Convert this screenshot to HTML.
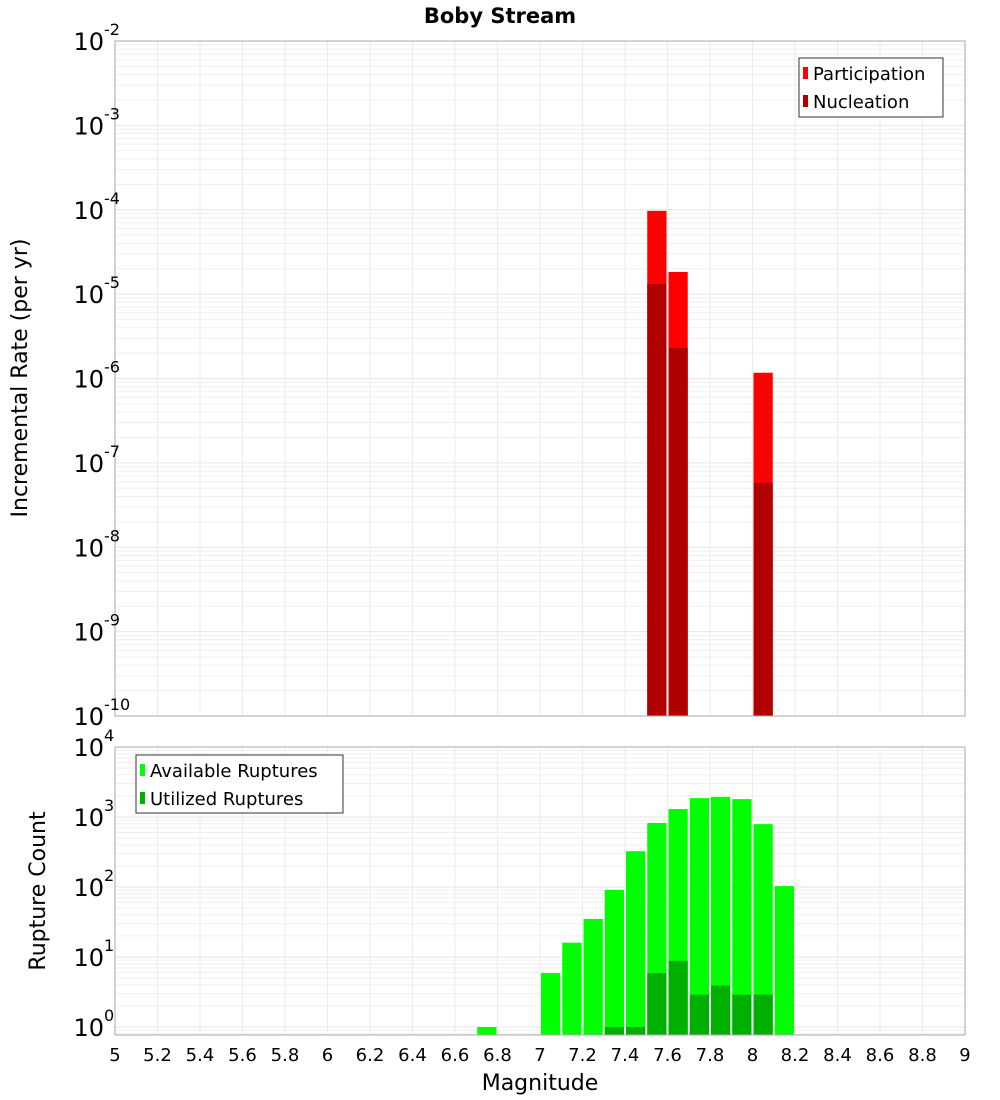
<!DOCTYPE html>
<html><head><meta charset="utf-8"><style>
html,body{margin:0;padding:0;background:#fff;}
svg{display:block;font-family:"DejaVu Sans","Liberation Sans",sans-serif;}
</style></head><body>
<svg id="chart" width="1000" height="1100" xmlns="http://www.w3.org/2000/svg">
<text x="500" y="23" text-anchor="middle" font-size="21" font-weight="bold">Boby Stream</text>
<g id="topPanel"></g>
<g id="botPanel"></g>
<text transform="translate(27,378) rotate(-90)" text-anchor="middle" font-size="22">Incremental Rate (per yr)</text>
<text transform="translate(45,891) rotate(-90)" text-anchor="middle" font-size="22">Rupture Count</text>
<text x="540" y="1090" text-anchor="middle" font-size="22">Magnitude</text>
<g>
<rect x="799" y="58" width="144" height="59" fill="#fff" stroke="#333" stroke-width="1"/>
<rect x="803" y="67" width="5" height="12" fill="#ff0000"/>
<text x="813" y="80" font-size="18">Participation</text>
<rect x="803" y="95" width="5" height="12" fill="#b00000"/>
<text x="813" y="108" font-size="18">Nucleation</text>
</g>
<g>
<rect x="136" y="755" width="207" height="58" fill="#fff" stroke="#333" stroke-width="1"/>
<rect x="140" y="764" width="5" height="12" fill="#00ff00"/>
<text x="150" y="777" font-size="18">Available Ruptures</text>
<rect x="140" y="792" width="5" height="12" fill="#00b000"/>
<text x="150" y="805" font-size="18">Utilized Ruptures</text>
</g>
</svg>
<script>
// data
const magBins = [6.7,7.0,7.1,7.2,7.3,7.4,7.5,7.6,7.7,7.8,7.9,8.0,8.1];
const availableCounts = [1,5.9,16,35,91,325,820,1300,1860,1940,1800,790,103];
const utilizedMags = [7.3,7.4,7.5,7.6,7.7,7.8,7.9,8.0];
const utilizedCounts = [1,1,5.9,8.8,2.9,3.9,2.9,2.9];
const rateMags = [7.5,7.6,8.0];
const participationRates = [9.7e-5,1.83e-5,1.17e-6];
const nucleationRates = [1.32e-5,2.3e-6,5.8e-8];
const xTicks = ["5","5.2","5.4","5.6","5.8","6","6.2","6.4","6.6","6.8","7","7.2","7.4","7.6","7.8","8","8.2","8.4","8.6","8.8","9"];

const NS="http://www.w3.org/2000/svg";
const L=115,R=965;
const x=m=>L+(m-5)/4*(R-L);
const T1=41,B1=716;
const y1=v=>T1+(-2-Math.log10(v))*(B1-T1)/8;
const T2=747,B2=1035;
const y2=v=>1027-Math.log10(v)*70;
function mk(p,tag,a){const e=document.createElementNS(NS,tag);for(const k in a)e.setAttribute(k,a[k]);p.appendChild(e);return e;}
const topG=document.getElementById('topPanel'),botG=document.getElementById('botPanel');

for(let d=-10;d<-2;d++)for(let k=1;k<10;k++){const yy=y1(k*Math.pow(10,d));mk(topG,'line',{x1:L,x2:R,y1:yy,y2:yy,stroke:k==1?'#e4e4e4':'#efefef','stroke-width':1});}
for(let i=0;i<=20;i++){const xx=x(5+i*0.2);mk(topG,'line',{x1:xx,x2:xx,y1:T1,y2:B1,stroke:'#ebebeb'});mk(botG,'line',{x1:xx,x2:xx,y1:T2,y2:B2,stroke:'#ebebeb'});}
for(let d=-1;d<4;d++)for(let k=1;k<10;k++){const yy=y2(k*Math.pow(10,d));if(yy<T2||yy>B2)continue;mk(botG,'line',{x1:L,x2:R,y1:yy,y2:yy,stroke:k==1?'#e4e4e4':'#efefef'});}

const bw=(R-L)/40;
rateMags.forEach((m,i)=>{
 const r=mk(topG,'rect',{x:x(m)+1,y:y1(participationRates[i]),width:bw-2,height:B1-y1(participationRates[i]),fill:'#ff0000'});
 
 
 const n=mk(topG,'rect',{x:x(m)+1,y:y1(nucleationRates[i]),width:bw-2,height:B1-y1(nucleationRates[i]),fill:'#b00000'});
 
 
});
magBins.forEach((m,i)=>{
 const r=mk(botG,'rect',{x:x(m)+1,y:y2(availableCounts[i]),width:bw-2,height:B2-y2(availableCounts[i]),fill:'#00ff00'});
 
 
});
utilizedMags.forEach((m,i)=>{
 const r=mk(botG,'rect',{x:x(m)+1,y:y2(utilizedCounts[i]),width:bw-2,height:B2-y2(utilizedCounts[i]),fill:'#00b000'});
 
 
});
mk(topG,'rect',{x:L,y:T1,width:R-L,height:B1-T1,fill:'none',stroke:'#aaa'});
mk(botG,'rect',{x:L,y:T2,width:R-L,height:B2-T2,fill:'none',stroke:'#aaa'});

function powLabel(p,yy,exp){const t=mk(p,'text',{x:104,y:yy+9,'text-anchor':'end','font-size':24});t.textContent='10';
 const s=mk(p,'text',{x:104,y:yy-6,'font-size':16});s.textContent=exp;
 
 }
for(let d=-2;d>=-10;d--)powLabel(topG,y1(Math.pow(10,d)),String(d));
[4,3,2,1,0].forEach(d=>powLabel(botG,y2(Math.pow(10,d)),String(d)));
xTicks.forEach(s=>{const t=mk(botG,'text',{x:x(parseFloat(s)),y:1061,'text-anchor':'middle','font-size':18});t.textContent=s;
 
 });
</script>
</body></html>
